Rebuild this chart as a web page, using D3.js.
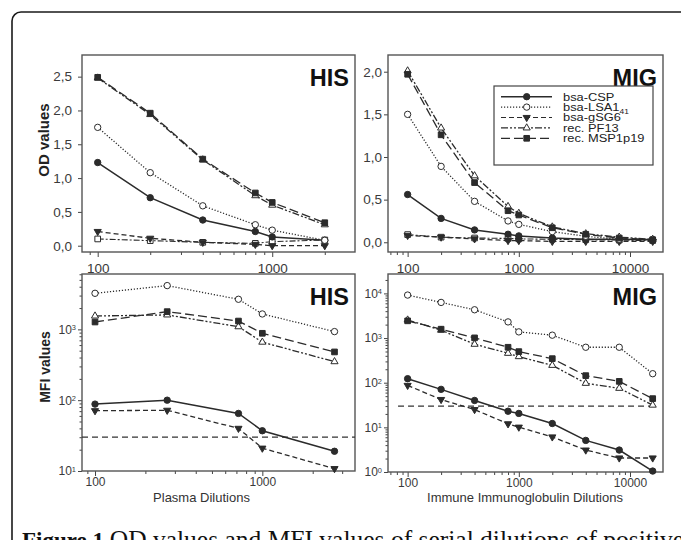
<!DOCTYPE html>
<html><head><meta charset="utf-8">
<script src="https://cdn.jsdelivr.net/npm/d3@7"></script>
<style>body{margin:0;background:#fff} svg{display:block}</style>
</head><body><svg id="c" width="681" height="540"></svg>
<script>
// ---------- DATA ----------
const seriesNames = ["bsa-CSP", "bsa-LSA1", "bsa-gSG6", "rec. PF13", "rec. MSP1p19"];
const seriesSub   = ["", "41", "", "", ""];

const dilHisOD  = [100, 200, 400, 800, 1000, 2000];
const dilMigOD  = [100, 200, 400, 800, 1000, 2000, 4000, 8000, 16000];
const dilHisMFI = [100, 270, 720, 1000, 2700];
const dilMigMFI = [100, 200, 400, 800, 1000, 2000, 4000, 8000, 16000];

const hisOD_CSP  = [1.23, 0.71, 0.38, 0.21, 0.13, 0.08];
const hisOD_LSA1 = [1.75, 1.08, 0.59, 0.31, 0.23, 0.08];
const hisOD_gSG6 = [0.21, 0.11, 0.05, 0.02, 0.00, 0.00];
const hisOD_PF13 = [2.48, 1.94, 1.27, 0.74, 0.60, 0.31];
const hisOD_MSP  = [2.49, 1.96, 1.28, 0.78, 0.64, 0.34];
const hisOD_ctrl = [0.10, 0.075, 0.05, 0.035, 0.06, 0.085];

const migOD_CSP  = [0.56, 0.28, 0.145, 0.094, 0.075, 0.05, 0.035, 0.035, 0.03];
const migOD_LSA1 = [1.50, 0.89, 0.48, 0.25, 0.21, 0.125, 0.07, 0.035, 0.03];
const migOD_gSG6 = [0.08, 0.06, 0.04, 0.02, 0.02, 0.01, 0.01, 0.01, 0.01];
const migOD_PF13 = [2.01, 1.34, 0.78, 0.42, 0.34, 0.18, 0.10, 0.06, 0.035];
const migOD_MSP  = [1.97, 1.26, 0.70, 0.37, 0.32, 0.17, 0.094, 0.05, 0.03];
const migOD_ctrl = [0.09, 0.06, 0.05, 0.045, 0.04, 0.035, 0.03, 0.025, 0.02];

const hisMFI_CSP  = [88, 100, 65, 37, 19];
const hisMFI_LSA1 = [3230, 4150, 2660, 1650, 930];
const hisMFI_gSG6 = [71, 72, 40, 21, 10.8];
const hisMFI_PF13 = [1545, 1600, 1090, 660, 350];
const hisMFI_MSP  = [1270, 1780, 1310, 880, 480];

const migMFI_CSP  = [123, 71, 40, 23, 20.5, 12.2, 5.1, 3.1, 1.05];
const migMFI_LSA1 = [9180, 6280, 4300, 2300, 1375, 1160, 622, 622, 159];
const migMFI_gSG6 = [87, 42, 25, 12, 10.1, 6.1, 3.1, 2.06, 2.06];
const migMFI_PF13 = [2540, 1500, 727, 456, 384, 245, 97, 75, 31.5];
const migMFI_MSP  = [2430, 1580, 1010, 622, 497, 346, 144, 107, 44];

const mfiCutoff = 30;
const odTicksHis = [0, 0.5, 1.0, 1.5, 2.0, 2.5];
const odTicksMig = [0, 0.5, 1.0, 1.5, 2.0];
const xMajorHis = [100, 1000];
const xMajorMig = [100, 1000, 10000];
const yLogHis = [10, 100, 1000];
const yLogMig = [1, 10, 100, 1000, 10000];

// ---------- STYLES ----------
const styles = [
  {dash: null,            sym: "circle",   fill: true },
  {dash: "1.2,1.8",       sym: "circle",   fill: false},
  {dash: "5,3",           sym: "triDown",  fill: true },
  {dash: "7,2,2,2,2,2",   sym: "triUp",    fill: false},
  {dash: "9,4",           sym: "square",   fill: true },
];
const ctrlStyle = {dash: "6,2,2,2", sym: "square", fill: false};
const ink = "#2b2b2b";
const font = "Arial, 'Liberation Sans', sans-serif";

const svg = d3.select("#c");

// outer frame
svg.append("rect").attr("x", 12).attr("y", 12).attr("width", 720).attr("height", 600)
  .attr("rx", 9).attr("fill", "none").attr("stroke", "#1a1a1a").attr("stroke-width", 1.6);

function symPath(kind) {
  if (kind === "circle") return d3.symbol().type(d3.symbolCircle).size(32)();
  if (kind === "square") return d3.symbol().type(d3.symbolSquare).size(32)();
  return d3.symbol().type(d3.symbolTriangle).size(22)();
}
function drawMarker(g, x, y, st) {
  g.append("path").attr("d", symPath(st.sym))
    .attr("transform", `translate(${x},${y})` + (st.sym === "triDown" ? " rotate(180)" : ""))
    .attr("fill", st.fill ? ink : "#fff").attr("stroke", ink).attr("stroke-width", 1);
}

const panels = [
  {x0: 82, x1: 355, y0: 55, y1: 252, xd: [81.3, 2980], yd: [-0.093, 2.82], log: false,
   dil: dilHisOD, data: [hisOD_CSP, hisOD_LSA1, hisOD_gSG6, hisOD_PF13, hisOD_MSP], ctrl: hisOD_ctrl,
   yticks: odTicksHis, xmaj: xMajorHis, title: "HIS", tfs: 13.5, ypad: 6, xpad: 6},
  {x0: 388, x1: 663, y0: 55, y1: 252, xd: [66.6, 19800], yd: [-0.114, 2.196], log: false,
   dil: dilMigOD, data: [migOD_CSP, migOD_LSA1, migOD_gSG6, migOD_PF13, migOD_MSP], ctrl: migOD_ctrl,
   yticks: odTicksMig, xmaj: xMajorMig, title: "MIG", tfs: 13.5, ypad: 2, xpad: 6},
  {x0: 82, x1: 355, y0: 274, y1: 471, xd: [83.6, 3580], yd: [10, 6050], log: true,
   dil: dilHisMFI, data: [hisMFI_CSP, hisMFI_LSA1, hisMFI_gSG6, hisMFI_PF13, hisMFI_MSP],
   yticks: yLogHis, xmaj: xMajorHis, title: "HIS", tfs: 12, ypad: 2, xpad: 1, cut: [83.6, 3580]},
  {x0: 388, x1: 663, y0: 274, y1: 472, xd: [66.6, 19800], yd: [1, 27200], log: true,
   dil: dilMigMFI, data: [migMFI_CSP, migMFI_LSA1, migMFI_gSG6, migMFI_PF13, migMFI_MSP],
   yticks: yLogMig, xmaj: xMajorMig, title: "MIG", tfs: 12, ypad: 2, xpad: 1, cut: [82, 17000]},
];

panels.forEach(p => {
  const x = d3.scaleLog().domain(p.xd).range([p.x0, p.x1]);
  const y = (p.log ? d3.scaleLog() : d3.scaleLinear()).domain(p.yd).range([p.y1, p.y0]);
  const g = svg.append("g");

  // minor x ticks
  const xMinor = [];
  for (let e = 1; e <= 4; e++) for (let m = 2; m <= 9; m++) {
    const v = m * Math.pow(10, e);
    if (v > p.xd[0] && v < p.xd[1]) xMinor.push(v);
  }
  const axMin = g.append("g").attr("transform", `translate(0,${p.y1})`)
    .call(d3.axisBottom(x).tickValues(xMinor).tickSize(3).tickFormat(""));
  axMin.select(".domain").remove();
  axMin.selectAll("line").attr("stroke", "#444");

  const axX = g.append("g").attr("transform", `translate(0,${p.y1})`)
    .call(d3.axisBottom(x).tickValues(p.xmaj).tickSize(5).tickPadding(p.xpad).tickFormat(d3.format("d")));
  axX.select(".domain").remove();
  axX.selectAll("line").attr("stroke", "#444");
  axX.selectAll("text").attr("font-family", font).attr("font-size", p.tfs).attr("fill", "#3a3a3a");

  // y axis
  if (p.log) {
    const yMinor = [];
    for (let e = 0; e <= 4; e++) for (let m = 2; m <= 9; m++) {
      const v = m * Math.pow(10, e);
      if (v > p.yd[0] && v < p.yd[1]) yMinor.push(v);
    }
    const ayMin = g.append("g").attr("transform", `translate(${p.x0},0)`)
      .call(d3.axisLeft(y).tickValues(yMinor).tickSize(2.5).tickFormat(""));
    ayMin.select(".domain").remove();
    ayMin.selectAll("line").attr("stroke", "#444");
  }
  const ay = g.append("g").attr("transform", `translate(${p.x0},0)`)
    .call(d3.axisLeft(y).tickValues(p.yticks).tickSize(4).tickPadding(p.ypad)
      .tickFormat(p.log ? (() => "") : (d => d3.format(".1f")(d).replace(".", ","))));
  ay.select(".domain").remove();
  ay.selectAll("line").attr("stroke", "#444");
  ay.selectAll("text").attr("font-family", font).attr("font-size", p.tfs).attr("fill", "#3a3a3a");
  if (p.log) {
    ay.selectAll("text").each(function(d) {
      const t = d3.select(this);
      t.text("10");
      t.append("tspan").attr("dy", "-0.45em").attr("font-size", "0.62em")
        .text(String(Math.round(Math.log10(d))));
    });
  }

  // frame
  g.append("rect").attr("x", p.x0).attr("y", p.y0).attr("width", p.x1 - p.x0).attr("height", p.y1 - p.y0)
    .attr("fill", "none").attr("stroke", "#555").attr("stroke-width", 1.4);

  // cutoff line
  if (p.cut) {
    g.append("line").attr("x1", x(p.cut[0])).attr("x2", x(p.cut[1]))
      .attr("y1", y(mfiCutoff)).attr("y2", y(mfiCutoff))
      .attr("stroke", "#333").attr("stroke-width", 1.3).attr("stroke-dasharray", "6,4");
  }

  const line = d3.line().x(d => x(d[0])).y(d => y(d[1]));
  const drawSeries = (vals, st, w) => {
    const pts = p.dil.map((d, i) => [d, vals[i]]);
    g.append("path").attr("d", line(pts)).attr("fill", "none").attr("stroke", ink)
      .attr("stroke-width", w).attr("stroke-dasharray", st.dash);
    pts.forEach(pt => drawMarker(g, x(pt[0]), y(pt[1]), st));
  };
  if (p.ctrl) drawSeries(p.ctrl, ctrlStyle, 1.1);
  [2, 0, 1, 3, 4].forEach(i => drawSeries(p.data[i], styles[i], i === 0 ? 1.5 : 1.3));

  // title
  g.append("text").attr("x", p.x1 - 6).attr("y", p.y0 + 31).attr("text-anchor", "end")
    .attr("font-family", font).attr("font-weight", "bold")
    .attr("font-size", 23.5).attr("fill", "#111").text(p.title);
});

// legend
const lg = svg.append("g");
lg.append("rect").attr("x", 494).attr("y", 86).attr("width", 159).attr("height", 79)
  .attr("fill", "#fff").attr("stroke", "#444").attr("stroke-width", 1.2);
seriesNames.forEach((name, i) => {
  const yy = 96.7 + i * 10.4;
  lg.append("line").attr("x1", 501).attr("x2", 552).attr("y1", yy).attr("y2", yy)
    .attr("stroke", ink).attr("stroke-width", i === 0 ? 1.5 : 1.2).attr("stroke-dasharray", styles[i].dash);
  drawMarker(lg, 526.7, yy, styles[i]);
  const t = lg.append("text").attr("x", 563).attr("y", yy + 4)
    .attr("font-family", font).attr("font-size", 11.5).attr("fill", "#222")
    .attr("transform", `translate(563,0) scale(1.12,1) translate(-563,0)`)
    .text(name);
  if (seriesSub[i]) t.append("tspan").attr("dy", 2.5).attr("font-size", 7.5).text(seriesSub[i]);
});

// axis titles
svg.append("text").attr("transform", "translate(48.5,140) rotate(-90)").attr("text-anchor", "middle")
  .attr("font-family", font).attr("font-weight", "bold").attr("font-size", 15).attr("fill", "#222").text("OD values");
svg.append("text").attr("transform", "translate(50,367) rotate(-90)").attr("text-anchor", "middle")
  .attr("font-family", font).attr("font-weight", "bold").attr("font-size", 14).attr("fill", "#222").text("MFI values");
svg.append("text").attr("x", 201.5).attr("y", 502).attr("text-anchor", "middle")
  .attr("font-family", font).attr("font-size", 13).attr("fill", "#333").text("Plasma Dilutions");
svg.append("text").attr("x", 525).attr("y", 502).attr("text-anchor", "middle")
  .attr("font-family", font).attr("font-size", 13).attr("fill", "#333").text("Immune Immunoglobulin Dilutions");

// caption (cut off at bottom)
const cap = svg.append("text").attr("x", 22).attr("y", 548)
  .attr("font-family", "'Liberation Serif', 'DejaVu Serif', serif").attr("fill", "#111");
cap.append("tspan").attr("font-weight", "bold").attr("font-size", 23).text("Figure 1 ");
cap.append("tspan").attr("font-size", 25.5).text("OD values and MFI values of serial dilutions of positive controls");
</script>
</body></html>
